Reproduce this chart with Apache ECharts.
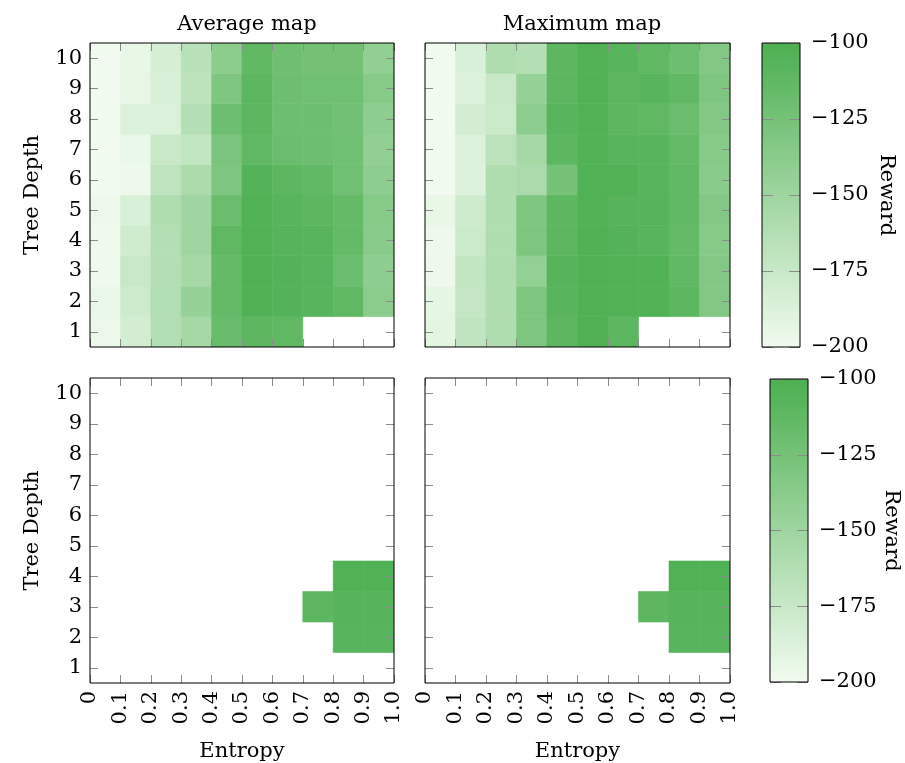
<!DOCTYPE html>
<html><head><meta charset="utf-8">
<script src="https://cdn.jsdelivr.net/npm/echarts@6/dist/echarts.min.js"></script>
<style>html,body{margin:0;padding:0;background:#fff}#c{width:905px;height:763px}</style>
</head><body><div id="c"></div>
<script>
// Entropy bins (left edge of each cell) and depths
const entropyBins = [0, 0.1, 0.2, 0.3, 0.4, 0.5, 0.6, 0.7, 0.8, 0.9];
const entropyTickLabels = ['0', '0.1', '0.2', '0.3', '0.4', '0.5', '0.6', '0.7', '0.8', '0.9', '1.0'];
const depths = ['1', '2', '3', '4', '5', '6', '7', '8', '9', '10'];
const rewardTicks = [-200, -175, -150, -125, -100];

// Rows: depth 1..10, columns: entropy bins 0..0.9 (null = no data)
const averageMap = [
  [-197, -182, -162, -155, -117, -110, -112, null, null, null],
  [-196, -178, -162, -145, -115, -102, -105, -108, -112, -138],
  [-199, -175, -163, -155, -115, -102, -105, -108, -118, -140],
  [-199, -180, -163, -150, -112, -103, -106, -108, -115, -137],
  [-198, -185, -160, -150, -118, -103, -108, -110, -115, -135],
  [-200, -198, -170, -158, -130, -105, -110, -113, -122, -140],
  [-200, -196, -175, -172, -128, -113, -118, -120, -122, -142],
  [-200, -188, -187, -163, -120, -110, -120, -120, -123, -140],
  [-200, -194, -185, -168, -130, -110, -120, -122, -122, -135],
  [-200, -195, -183, -166, -139, -112, -121, -124, -124, -142]
];
const maximumMap = [
  [-192, -170, -160, -130, -110, -102, -110, null, null, null],
  [-193, -173, -160, -130, -108, -102, -103, -103, -110, -133],
  [-198, -172, -160, -143, -107, -102, -103, -103, -113, -133],
  [-198, -177, -160, -130, -110, -102, -105, -108, -115, -135],
  [-195, -178, -160, -130, -110, -103, -107, -107, -113, -133],
  [-200, -188, -160, -157, -125, -103, -103, -108, -113, -137],
  [-200, -187, -167, -155, -110, -103, -108, -108, -115, -135],
  [-200, -182, -177, -140, -108, -103, -110, -112, -118, -133],
  [-200, -187, -175, -145, -110, -103, -110, -108, -113, -130],
  [-200, -185, -160, -163, -110, -103, -108, -112, -120, -133]
];
const bottomLeftMap = [
  [null, null, null, null, null, null, null, null, null, null],
  [null, null, null, null, null, null, null, null, -108, -108],
  [null, null, null, null, null, null, null, -110, -107, -107],
  [null, null, null, null, null, null, null, null, -103, -103],
  [null, null, null, null, null, null, null, null, null, null],
  [null, null, null, null, null, null, null, null, null, null],
  [null, null, null, null, null, null, null, null, null, null],
  [null, null, null, null, null, null, null, null, null, null],
  [null, null, null, null, null, null, null, null, null, null],
  [null, null, null, null, null, null, null, null, null, null]
];
const bottomRightMap = [
  [null, null, null, null, null, null, null, null, null, null],
  [null, null, null, null, null, null, null, null, -108, -108],
  [null, null, null, null, null, null, null, -110, -107, -107],
  [null, null, null, null, null, null, null, null, -103, -103],
  [null, null, null, null, null, null, null, null, null, null],
  [null, null, null, null, null, null, null, null, null, null],
  [null, null, null, null, null, null, null, null, null, null],
  [null, null, null, null, null, null, null, null, null, null],
  [null, null, null, null, null, null, null, null, null, null],
  [null, null, null, null, null, null, null, null, null, null]
];

const LIGHT = '#F1FBEF', DARK = '#4CAF50';
const FONT = 'DejaVu Serif';
const FS = 21;
const TICK = '#8c8c8c';

function toData(m) {
  const out = [];
  m.forEach((row, r) => row.forEach((v, c) => {
    if (v !== null) out.push([entropyBins[c], depths[r], v]);
  }));
  return out;
}

function renderCell(params, api) {
  const x0 = api.value(0), yi = api.value(1);
  const band = api.size([0, 1])[1];
  const pa = api.coord([x0, yi]);
  const pb = api.coord([x0 + 0.1, yi]);
  const col = api.visual('color');
  return {
    type: 'rect',
    shape: { x: pa[0], y: pa[1] - band / 2, width: pb[0] - pa[0], height: band },
    style: { fill: col, stroke: col, lineWidth: 0.6 }
  };
}

function renderBar(params, api) {
  const p1 = api.coord([0, api.value(2)]);
  const p2 = api.coord([1, api.value(1)]);
  return {
    type: 'rect',
    shape: { x: p1[0], y: p1[1], width: p2[0] - p1[0], height: p2[1] - p1[1] },
    style: { fill: new echarts.graphic.LinearGradient(0, 0, 0, 1, [{ offset: 0, color: DARK }, { offset: 1, color: LIGHT }]) }
  };
}

const grids = [
  { left: 90, top: 43, width: 304, height: 304 },
  { left: 425, top: 43, width: 305, height: 304 },
  { left: 90, top: 378, width: 304, height: 305 },
  { left: 425, top: 378, width: 305, height: 305 },
  { left: 762, top: 43, width: 38, height: 304 },
  { left: 770, top: 379, width: 38, height: 303 }
].map(g => Object.assign({ show: true, borderColor: '#000', borderWidth: 1, backgroundColor: 'transparent', z: 12 }, g));

const xAxes = [], yAxes = [];
const txt = { fontFamily: FONT, fontSize: FS, color: '#000' };
const noLine = { show: false, onZero: false };
for (let i = 0; i < 4; i++) {
  const bottomRow = i >= 2;
  const leftCol = i % 2 === 0;
  ['bottom', 'top'].forEach(pos => {
    const main = pos === 'bottom';
    xAxes.push({
      type: 'value', gridIndex: i, position: pos, min: 0, max: 1, interval: 0.1, z: 10,
      axisLine: noLine, splitLine: { show: false },
      axisTick: { show: true, inside: true, length: 8, lineStyle: { color: TICK, width: 1 } },
      axisLabel: {
        show: main && bottomRow, rotate: 90, margin: 8, ...txt,
        formatter: v => entropyTickLabels[Math.round(v * 10)]
      },
      name: (main && bottomRow) ? 'Entropy' : '', nameLocation: 'middle', nameGap: 58,
      nameTextStyle: txt
    });
  });
  ['left', 'right'].forEach(pos => {
    const main = pos === 'left';
    yAxes.push({
      type: 'category', data: depths, gridIndex: i, position: pos, boundaryGap: true, z: 10,
      axisLine: noLine, splitLine: { show: false },
      axisTick: { show: true, inside: true, length: 8, alignWithLabel: true, lineStyle: { color: TICK, width: 1 } },
      axisLabel: { show: main && leftCol, margin: 8, ...txt },
      name: (main && leftCol) ? 'Tree Depth' : '', nameLocation: 'middle', nameGap: 47, nameRotate: 90,
      nameTextStyle: txt
    });
  });
}
// colorbars
[4, 5].forEach(g => {
  xAxes.push({ type: 'value', gridIndex: g, min: 0, max: 1, show: false, axisLine: noLine });
  ['left', 'right'].forEach(pos => {
    const main = pos === 'right';
    yAxes.push({
      type: 'value', gridIndex: g, position: pos, min: -200, max: -100, interval: 25, z: 10,
      axisLine: noLine, splitLine: { show: false },
      axisTick: { show: true, inside: true, length: 11, lineStyle: { color: TICK, width: 1 } },
      axisLabel: { show: main, margin: 11, ...txt, formatter: v => '\u2212' + Math.abs(v) },
      name: main ? 'Reward' : '', nameLocation: 'middle', nameGap: g === 4 ? 76 : 73, nameRotate: -90,
      nameTextStyle: txt
    });
  });
});

const maps = [averageMap, maximumMap, bottomLeftMap, bottomRightMap];
const series = maps.map((m, i) => ({
  type: 'custom', xAxisIndex: i * 2, yAxisIndex: i * 2, renderItem: renderCell,
  data: toData(m), encode: { x: 0, y: 1 }, clip: true, z: 2
}));
[4, 5].forEach((g, k) => {
  series.push({
    type: 'custom', xAxisIndex: 8 + k, yAxisIndex: 8 + k * 2, renderItem: renderBar, z: 2,
    data: [[0, rewardTicks[0], rewardTicks[rewardTicks.length - 1]]], encode: { x: 0, y: [1, 2] }
  });
});

const chart = echarts.init(document.getElementById('c'), null, { renderer: 'canvas' });
chart.setOption({
  animation: false,
  backgroundColor: '#fff',
  title: [
    { text: 'Average map', left: 242, top: 9, textAlign: 'center', textStyle: { ...txt, fontWeight: 'normal' } },
    { text: 'Maximum map', left: 577, top: 9, textAlign: 'center', textStyle: { ...txt, fontWeight: 'normal' } }
  ],
  visualMap: {
    type: 'continuous', show: false, min: -200, max: -100, dimension: 2,
    seriesIndex: [0, 1, 2, 3], inRange: { color: [LIGHT, DARK] }
  },
  grid: grids, xAxis: xAxes, yAxis: yAxes, series: series
});
</script></body></html>
